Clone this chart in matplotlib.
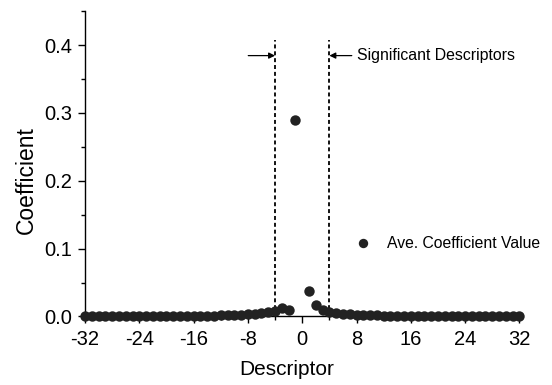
import matplotlib
matplotlib.use("Agg")
import matplotlib.pyplot as plt
import numpy as np

plt.rcParams['font.family'] = ['Liberation Sans', 'DejaVu Sans']

descriptors = list(range(-32, 0)) + list(range(1, 33))
coef_left = [0.0005, 0.0005, 0.0005, 0.0005, 0.0005, 0.0005, 0.0005, 0.0005,
             0.0005, 0.0005, 0.0006, 0.0006, 0.0006, 0.0007, 0.0008, 0.0009,
             0.0010, 0.0011, 0.0012, 0.0014, 0.0016, 0.0019, 0.0023, 0.0028,
             0.0034, 0.0042, 0.0052, 0.0062, 0.0075, 0.0125, 0.0088, 0.289]
coef_right = [0.038, 0.017, 0.0095, 0.0060, 0.0045, 0.0037, 0.0030, 0.0025,
              0.0021, 0.0018, 0.0016, 0.0014, 0.0012, 0.0011, 0.0010, 0.0009,
              0.0008, 0.0008, 0.0007, 0.0007, 0.0006, 0.0006, 0.0006, 0.0005,
              0.0005, 0.0005, 0.0005, 0.0005, 0.0005, 0.0005, 0.0005, 0.0005]
coefficients = coef_left + coef_right
threshold_lo, threshold_hi = -4, 4
xticks = [-32, -24, -16, -8, 0, 8, 16, 24, 32]
yticks = [0.0, 0.1, 0.2, 0.3, 0.4]

fig = plt.figure(figsize=(5.52, 3.85), dpi=100)
ax = fig.add_axes([0.154, 0.178, 0.787, 0.793])

ax.plot(descriptors, coefficients, 'o', color='#222222', markersize=7.5,
        markeredgewidth=0, clip_on=False, zorder=3, label='Ave. Coefficient Value')

for xv in (threshold_lo, threshold_hi):
    ax.plot([xv, xv], [0, 0.408], color='black', lw=1.3, linestyle=(0, (2.2, 1.6)), zorder=2)

ya = 0.3845
ax.annotate('', xy=(threshold_lo, ya), xytext=(-7.95, ya),
            arrowprops=dict(arrowstyle='-|>', color='black', lw=0.9,
                            mutation_scale=9, shrinkA=0, shrinkB=0))
ax.annotate('', xy=(threshold_hi, ya), xytext=(7.3, ya),
            arrowprops=dict(arrowstyle='-|>', color='black', lw=0.9,
                            mutation_scale=9, shrinkA=0, shrinkB=0))
ax.text(8.0, ya, 'Significant Descriptors', fontsize=11.4, va='center', ha='left')

ax.set_xlim(-32, 32)
ax.set_ylim(0, 0.45)
ax.set_xticks(xticks)
ax.set_xticklabels([str(t) for t in xticks])
ax.set_yticks(yticks)
ax.set_yticklabels([f'{t:.1f}' for t in yticks])
ax.set_xticks(np.arange(-28, 32, 8), minor=True)
ax.set_yticks([0.05, 0.15, 0.25, 0.35, 0.45], minor=True)

for s in ('top', 'right'):
    ax.spines[s].set_visible(False)
for s in ('left', 'bottom'):
    ax.spines[s].set_linewidth(1.0)
ax.tick_params(axis='both', which='major', direction='out', length=5, width=1, labelsize=14.5)
ax.tick_params(axis='x', which='major', pad=4.5)
ax.tick_params(axis='y', which='major', pad=4)
ax.tick_params(axis='both', which='minor', direction='out', length=3, width=1)

ax.set_xlabel('Descriptor', fontsize=15)
ax.set_ylabel('Coefficient', fontsize=16.5)
ax.xaxis.set_label_coords(0.464, -0.141)
ax.yaxis.set_label_coords(-0.1086, 0.447)

leg = ax.legend(loc='center left', bbox_to_anchor=(0.586, 0.2375), frameon=False,
                fontsize=11.3, handletextpad=0.91, handlelength=1.2, markerscale=0.9)

fig.savefig('out.png', dpi=100)
